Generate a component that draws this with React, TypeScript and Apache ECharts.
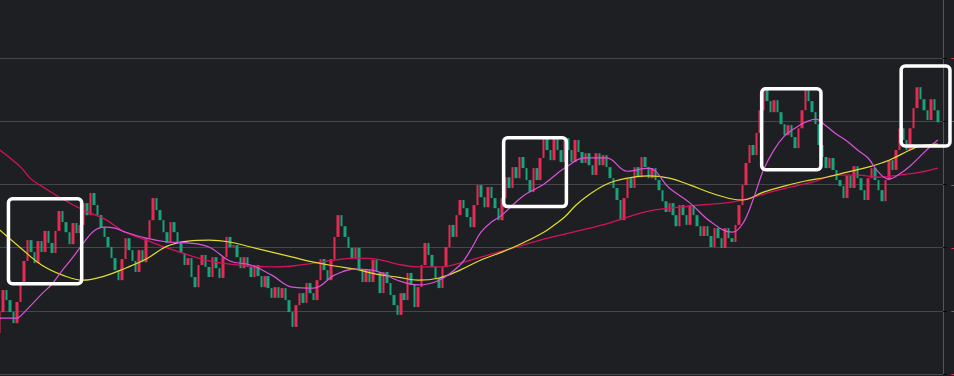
import React, { useEffect, useRef } from 'react';
import * as echarts from 'echarts';

// Price path (percent change), one close per candle; open of each candle is the previous close.
const firstOpen = -10.7;
const closes = [
  -10.04, -9.34, -9.66, -10.04, -10.39, -9.72, -9.09, -8.42, -7.76, -8.14,
  -8.49, -7.79, -8.14, -7.47, -7.85, -8.17, -7.47, -6.84, -7.19, -7.51,
  -7.89, -7.22, -7.54, -7.28, -6.59, -6.97, -6.27, -6.65, -6.97, -7.35,
  -7.66, -7.98, -8.33, -8.71, -9.03, -8.36, -7.7, -8.08, -8.42, -8.77,
  -8.08, -8.46, -7.7, -7.13, -6.43, -6.81, -7.13, -7.51, -7.85, -7.19,
  -7.51, -7.85, -8.17, -8.55, -8.33, -8.93, -9.25, -8.55, -8.23, -8.61,
  -8.93, -8.3, -8.65, -8.96, -8.3, -7.66, -7.98, -7.92, -8.3, -8.65,
  -8.3, -8.61, -8.93, -8.55, -8.9, -9.25, -8.9, -9.28, -9.59, -9.25,
  -9.59, -9.28, -9.66, -10.04, -10.51, -9.82, -9.44, -9.75, -9.12, -9.44,
  -9.66, -9.03, -8.36, -8.71, -9.03, -8.36, -7.66, -6.97, -7.32, -7.66,
  -8.01, -8.33, -8.01, -8.71, -9.09, -8.71, -9.09, -8.39, -8.77, -9.44,
  -8.77, -9.12, -9.5, -9.82, -10.13, -9.44, -9.66, -8.8, -9.18, -9.88,
  -9.25, -8.55, -7.85, -8.23, -8.61, -8.96, -9.28, -8.61, -7.98, -7.28,
  -7.66, -6.97, -6.49, -6.75, -7.03, -7.35, -6.65, -6.02, -6.4, -6.72,
  -6.08, -6.43, -6.75, -7.13, -6.43, -5.77, -6.11, -5.45, -5.8, -5.13,
  -5.48, -5.86, -6.24, -5.48, -5.86, -5.16, -4.53, -4.91, -5.23, -4.53,
  -4.91, -5.29, -4.53, -4.91, -5.29, -4.59, -4.97, -5.32, -5.01, -5.39,
  -5.7, -5.01, -5.39, -5.07, -5.45, -5.8, -6.11, -6.49, -7.13, -6.43,
  -5.8, -6.11, -5.45, -5.77, -5.13, -5.45, -5.8, -5.48, -5.86, -6.18,
  -6.53, -6.87, -6.59, -6.97, -7.32, -6.65, -6.97, -7.28, -6.65, -6.97,
  -7.32, -7.63, -7.32, -7.63, -7.98, -7.38, -7.7, -8.01, -7.38, -7.7,
  -7.82, -7.28, -6.65, -6.02, -5.32, -4.75, -5.07, -4.37, -3.65, -3.01,
  -3.36, -3.71, -3.33, -3.71, -4.09, -4.44, -4.12, -4.5, -4.85, -4.22,
  -3.65, -3.01, -3.36, -3.71, -4.09, -4.75, -5.13, -5.48, -5.16, -5.54,
  -5.86, -6.05, -6.43, -5.73, -6.11, -5.42, -5.8, -6.18, -6.49, -5.8,
  -5.48, -5.86, -6.18, -6.53, -5.86, -5.23, -5.54, -4.91, -4.22, -4.59,
  -4.91, -4.22, -3.58, -2.92, -3.3, -3.65, -3.96, -3.3, -3.65, -4.03,
];

// Moving-average readings: [candle index, value]
const maShort = [
  [0, -10.23], [3, -10.23], [5, -10.23], [6, -10.16], [9, -9.82], [12, -9.47], [15, -9.15],
  [18, -8.71], [21, -8.3], [24, -7.85], [27, -7.47], [30, -7.35], [33, -7.38], [36, -7.51],
  [42, -7.7], [48, -7.82], [54, -7.85], [60, -7.98], [66, -8.42], [72, -8.55], [78, -8.87],
  [84, -9.25], [90, -9.28], [96, -8.87], [102, -8.68], [108, -8.74], [114, -9.03], [120, -9.18],
  [126, -9.03], [132, -8.55], [135, -8.08], [138, -7.51], [141, -7.19], [144, -6.97],
  [150, -6.37], [156, -5.99], [162, -5.48], [168, -5.16], [174, -5.16], [180, -5.58],
  [186, -5.48], [192, -6.11], [198, -6.59], [204, -7.19], [210, -7.51], [213, -7.25],
  [216, -6.49], [219, -5.54], [222, -4.91], [225, -4.47], [228, -4.22], [231, -4.03],
  [234, -3.93], [237, -4.15], [240, -4.41], [243, -4.63], [246, -4.91], [249, -5.16],
  [252, -5.61], [255, -5.83], [258, -5.67], [261, -5.42], [264, -5.1], [267, -4.78], [269, -4.59],
];
const maMid = [
  [0, -7.44], [6, -8.01], [12, -8.55], [18, -8.87], [24, -9.03], [30, -8.9], [36, -8.65],
  [42, -8.36], [48, -7.95], [54, -7.79], [60, -7.76], [66, -7.82], [72, -7.98], [78, -8.14],
  [84, -8.3], [90, -8.46], [96, -8.58], [102, -8.68], [108, -8.84], [114, -8.93], [120, -9.03],
  [126, -8.96], [132, -8.71], [138, -8.39], [144, -8.14], [150, -7.85], [156, -7.51],
  [159, -7.28], [162, -7.03], [165, -6.68], [168, -6.4], [174, -5.99], [180, -5.8],
  [186, -5.73], [192, -5.8], [198, -6.02], [204, -6.27], [210, -6.46], [213, -6.49],
  [219, -6.24], [225, -6.05], [231, -5.89], [237, -5.77], [243, -5.61], [249, -5.45],
  [255, -5.23], [261, -4.91], [264, -4.78], [269, -4.72],
];
const maLong = [
  [0, -4.91], [6, -5.45], [9, -5.83], [12, -6.05], [18, -6.46], [24, -6.81], [30, -7.09],
  [36, -7.51], [42, -7.76], [48, -8.01], [54, -8.23], [60, -8.42], [66, -8.52], [72, -8.58],
  [78, -8.61], [84, -8.58], [90, -8.49], [96, -8.39], [102, -8.33], [108, -8.36], [114, -8.52],
  [120, -8.61], [126, -8.61], [132, -8.49], [138, -8.3], [144, -8.11], [150, -7.92],
  [156, -7.73], [162, -7.57], [168, -7.41], [174, -7.25], [180, -7.03], [186, -6.84],
  [192, -6.75], [198, -6.68], [204, -6.62], [210, -6.56], [216, -6.4], [222, -6.21],
  [228, -6.05], [234, -5.89], [240, -5.7], [246, -5.7], [252, -5.77], [258, -5.7],
  [264, -5.61], [269, -5.48],
];

const yMin = -12;
const yMax = 0;
const yInterval = 2;

// Highlight boxes: candle index range and value range
const highlightBoxes = [
  { from: 3, to: 23, high: -6.45, low: -9.14 },
  { from: 145, to: 162, high: -4.52, low: -6.7 },
  { from: 219, to: 235, high: -2.97, low: -5.53 },
  { from: 259, to: 272, high: -2.25, low: -4.78 },
];

const UP = '#e62a52';
const DOWN = '#17a37b';

export default function App() {
  const ref = useRef<HTMLDivElement>(null);
  useEffect(() => {
    const chart = echarts.init(ref.current!, null, { renderer: 'svg' });
    const opens = [firstOpen, ...closes.slice(0, -1)];
    const candles = closes.map((c, i) => {
      const o = opens[i];
      return [o, c, Math.min(o, c), Math.max(o, c)];
    });
    const categories = Array.from({ length: closes.length + 1 }, (_, i) => String(i + 1));
    chart.setOption({
      animation: false,
      backgroundColor: '#1e1f23',
      grid: { left: -2, right: 11, top: -5, bottom: 2, containLabel: false, outerBoundsMode: 'none' },
      xAxis: {
        type: 'category',
        data: categories,
        boundaryGap: true,
        axisLine: { show: false },
        axisTick: { show: false },
        axisLabel: { show: false },
        splitLine: { show: false },
      },
      yAxis: {
        type: 'value',
        position: 'right',
        min: yMin,
        max: yMax,
        interval: yInterval,
        axisLine: { show: true, lineStyle: { color: '#55565b', width: 1 } },
        axisTick: { show: true, length: 4, lineStyle: { color: '#08080a', width: 1 } },
        axisLabel: {
          color: '#e8334f',
          margin: 8,
          fontSize: 12,
          fontFamily: 'Roboto',
          formatter: (v: number) => v.toFixed(2) + '%',
        },
        splitLine: { show: true, lineStyle: { color: '#46464a', width: 1 } },
      },
      series: [
        {
          type: 'candlestick',
          data: candles,
          barWidth: 3,
          itemStyle: { color: UP, color0: DOWN, borderColor: UP, borderColor0: DOWN, borderWidth: 0 },
          z: 2,
        },
        {
          type: 'line',
          data: maLong,
          smooth: 0.4,
          symbol: 'none',
          lineStyle: { color: '#d4125c', width: 1.3 },
          z: 3,
        },
        {
          type: 'line',
          data: maMid,
          smooth: 0.4,
          symbol: 'none',
          lineStyle: { color: '#e2de2a', width: 1.2 },
          z: 3,
        },
        {
          type: 'line',
          data: maShort,
          smooth: 0.4,
          symbol: 'none',
          lineStyle: { color: '#dc52dc', width: 1.2 },
          z: 4,
        },
      ],
    });
    const p0 = chart.convertToPixel({ xAxisIndex: 0 }, 0) as number;
    const p1 = chart.convertToPixel({ xAxisIndex: 0 }, 1) as number;
    const bw = p1 - p0;
    const rects = highlightBoxes.map((b) => {
      const x1 = p0 + (b.from - 0.5) * bw;
      const x2 = p0 + (b.to + 0.5) * bw;
      const y1 = chart.convertToPixel({ yAxisIndex: 0 }, b.high) as number;
      const y2 = chart.convertToPixel({ yAxisIndex: 0 }, b.low) as number;
      return {
        type: 'rect',
        shape: { x: x1, y: y1, width: x2 - x1, height: y2 - y1, r: 4 },
        style: { fill: 'none', stroke: '#ffffff', lineWidth: 3.5 },
        z: 100,
      };
    });
    chart.setOption({ graphic: rects });
    return () => chart.dispose();
  }, []);
  return (
    <div
      ref={ref}
      style={{ position: 'fixed', left: 0, top: 0, width: 954, height: 376, background: '#1e1f23' }}
    />
  );
}
